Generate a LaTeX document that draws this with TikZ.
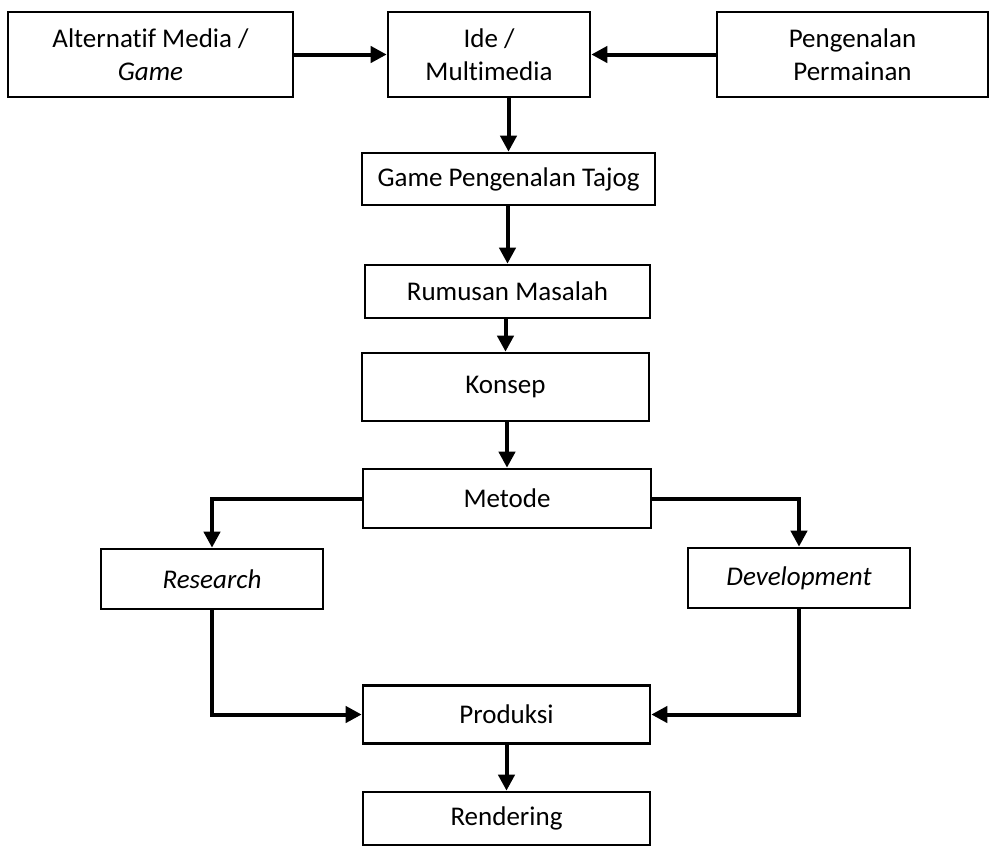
\documentclass[tikz,border=0pt]{standalone}
\usepackage{fontspec}
\setmainfont{Carlito}[Ligatures={NoCommon}]
\usetikzlibrary{arrows.meta}
\begin{document}
\begin{tikzpicture}[x=1pt,y=-1pt,
  box/.style={draw,line width=2.6pt,rectangle,inner sep=0pt,align=center,font=\fontsize{27}{33}\selectfont},
  conn/.style={line width=4pt,-{Triangle[length=16pt,width=16pt]}}]
\useasboundingbox (0,0) rectangle (990,847);
\node[box,minimum width=285pt,minimum height=85pt] (alt) at (150.5,54.5) {Alternatif Media /\\\textit{Game}};
\node[box,minimum width=202pt,minimum height=85pt] (ide) at (489,54.5) {Ide /\\Multimedia};
\node[box,minimum width=271pt,minimum height=85pt] (pen) at (852.5,54.5) {Pengenalan\\Permainan};
\node[box,minimum width=293pt,minimum height=52pt] (game) at (508.5,179) {Game Pengenalan Tajog};
\node[box,minimum width=285pt,minimum height=53pt] (rum) at (507.5,291.5) {Rumusan Masalah};
\node[box,minimum width=287pt,minimum height=68pt] (kon) at (505.5,387) {Konsep};
\node[box,minimum width=288pt,minimum height=59pt] (met) at (507,498.5) {Metode};
\node[box,minimum width=222pt,minimum height=60pt] (res) at (212,579) {\textit{Research}};
\node[box,minimum width=222pt,minimum height=60pt] (dev) at (799,578) {\textit{Development}};
\node[box,minimum width=287pt,minimum height=58pt] (pro) at (506.5,714.5) {Produksi};
\node[box,minimum width=287pt,minimum height=53pt] (ren) at (506.5,818.5) {Rendering};
\draw[conn] (alt.east) -- (ide.west);
\draw[conn] (pen.west) -- (ide.east);
\draw[conn] (ide.south -| game.north) -- (game.north);
\draw[conn] (game.south -| rum.north) -- (rum.north);
\draw[conn] (rum.south -| kon.north) -- (kon.north);
\draw[conn] (kon.south -| met.north) -- (met.north);
\draw[conn] (met.west) -| (res.north);
\draw[conn] (met.east) -| (dev.north);
\draw[conn] (res.south) |- (pro.west);
\draw[conn] (dev.south) |- (pro.east);
\draw[conn] (pro.south) -- (ren.north);
\end{tikzpicture}
\end{document}
